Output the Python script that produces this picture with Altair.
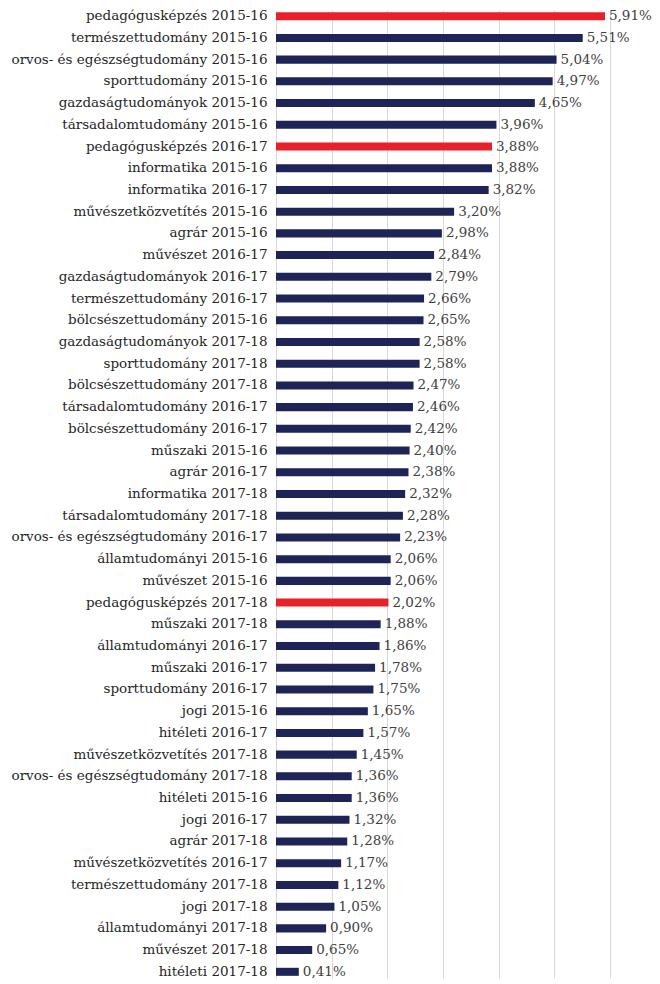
import altair as alt
import pandas as pd

categories = [
    "pedagógusképzés 2015-16", "természettudomány 2015-16", "orvos- és egészségtudomány 2015-16",
    "sporttudomány 2015-16", "gazdaságtudományok 2015-16", "társadalomtudomány 2015-16",
    "pedagógusképzés 2016-17", "informatika 2015-16", "informatika 2016-17",
    "művészetközvetítés 2015-16", "agrár 2015-16", "művészet 2016-17",
    "gazdaságtudományok 2016-17", "természettudomány 2016-17", "bölcsészettudomány 2015-16",
    "gazdaságtudományok 2017-18", "sporttudomány 2017-18", "bölcsészettudomány 2017-18",
    "társadalomtudomány 2016-17", "bölcsészettudomány 2016-17", "műszaki 2015-16",
    "agrár 2016-17", "informatika 2017-18", "társadalomtudomány 2017-18",
    "orvos- és egészségtudomány 2016-17", "államtudományi 2015-16", "művészet 2015-16",
    "pedagógusképzés 2017-18", "műszaki 2017-18", "államtudományi 2016-17",
    "műszaki 2016-17", "sporttudomány 2016-17", "jogi 2015-16",
    "hitéleti 2016-17", "művészetközvetítés 2017-18", "orvos- és egészségtudomány 2017-18",
    "hitéleti 2015-16", "jogi 2016-17", "agrár 2017-18",
    "művészetközvetítés 2016-17", "természettudomány 2017-18", "jogi 2017-18",
    "államtudományi 2017-18", "művészet 2017-18", "hitéleti 2017-18",
]
values = [
    5.91, 5.51, 5.04, 4.97, 4.65, 3.96, 3.88, 3.88, 3.82, 3.20, 2.98, 2.84, 2.79, 2.66, 2.65,
    2.58, 2.58, 2.47, 2.46, 2.42, 2.40, 2.38, 2.32, 2.28, 2.23, 2.06, 2.06, 2.02, 1.88, 1.86,
    1.78, 1.75, 1.65, 1.57, 1.45, 1.36, 1.36, 1.32, 1.28, 1.17, 1.12, 1.05, 0.90, 0.65, 0.41,
]
highlight = [c.startswith("pedagógusképzés") for c in categories]

df = pd.DataFrame({"cat": categories, "val": values, "hl": highlight})

FONT = "DejaVu Serif"

y = alt.Y("cat:N", sort=categories, title=None,
          scale=alt.Scale(paddingInner=0.63, paddingOuter=0.1),
          axis=alt.Axis(ticks=False, domain=False, labelFont=FONT, labelFontSize=13.5,
                        labelColor="#262626", labelPadding=9, labelLimit=400, minExtent=268))
x = alt.X("val:Q", title=None, scale=alt.Scale(domain=[0, 6], nice=False),
          axis=alt.Axis(values=[0, 1, 2, 3, 4, 5, 6], labels=False, ticks=False, domain=False,
                        grid=True, gridColor="#d9d9d9", gridWidth=1))

bars = alt.Chart(df).mark_bar().encode(
    y=y, x=x,
    color=alt.Color("hl:N", scale=alt.Scale(domain=[False, True], range=["#1f2457", "#e8202a"]),
                    legend=None),
)

labels = alt.Chart(df).transform_calculate(
    lbl="replace(format(datum.val, '.2f'), '.', ',') + '%'"
).mark_text(align="left", baseline="middle", dx=4, font=FONT, fontSize=13.5, color="#404040").encode(
    y=alt.Y("cat:N", sort=categories),
    x=alt.X("val:Q"),
    text="lbl:N",
)

chart = (bars + labels).properties(width=334, height=968, padding=0).configure_view(
    stroke=None
)

chart.save("out.html", embed_options={"renderer": "svg", "actions": False})
